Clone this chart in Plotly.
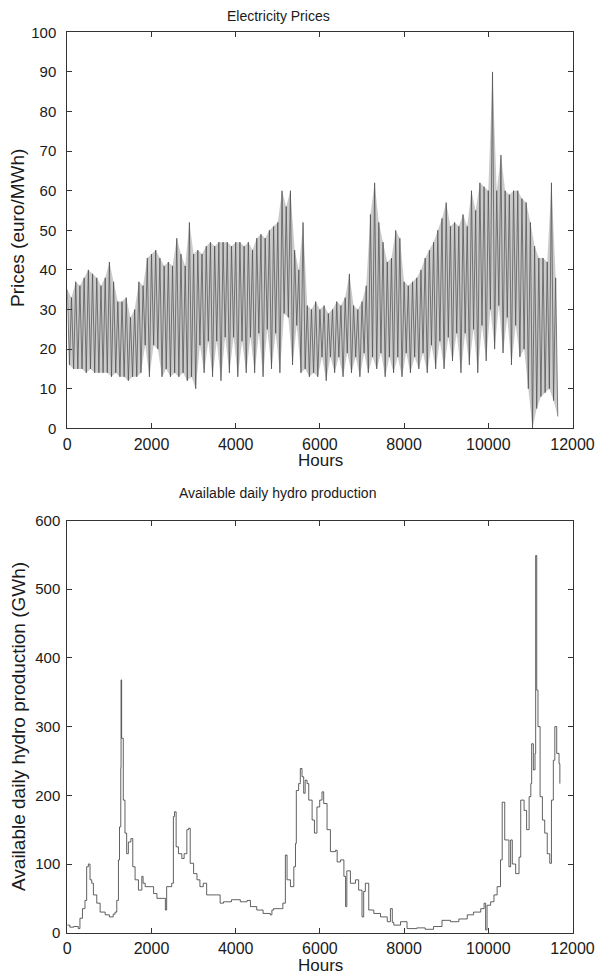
import plotly.graph_objects as go

# ---------------- data ----------------
# Electricity prices: daily swings sampled every 100 hours as high / low values
PRICE_HOURS = list(range(0, 11700, 100))
PRICE_HIGH = [
    35, 33, 37, 36, 38, 40, 39, 38, 36, 38,
    42, 37, 32, 32, 33, 28, 30, 37, 36, 43,
    44, 45, 43, 41, 42, 41, 48, 44, 41, 52,
    44, 45, 44, 46, 47, 46, 47, 47, 47, 46,
    47, 47, 46, 47, 45, 48, 49, 48, 50, 51,
    52, 60, 56, 60, 45, 40, 52, 31, 30, 32,
    30, 31, 29, 30, 32, 31, 33, 39, 31, 30,
    32, 36, 54, 62, 52, 47, 42, 43, 50, 48,
    37, 36, 37, 38, 40, 43, 45, 47, 50, 53,
    57, 51, 52, 51, 54, 51, 60, 55, 62, 61,
    60, 90, 60, 69, 60, 59, 60, 60, 58, 57,
    52, 46, 43, 43, 42, 62, 38,
]
PRICE_LOW = [
    16, 15, 15, 15, 14, 15, 14, 14, 14, 14,
    13, 14, 13, 13, 12, 13, 13, 14, 21, 13,
    21, 20, 13, 15, 13, 14, 13, 14, 12, 13,
    10, 21, 14, 22, 13, 22, 12, 23, 14, 23,
    13, 22, 14, 23, 14, 24, 13, 25, 15, 24,
    14, 29, 28, 16, 26, 14, 15, 13, 14, 13,
    18, 12, 18, 14, 18, 13, 19, 14, 18, 13,
    19, 14, 18, 15, 19, 13, 18, 14, 18, 13,
    19, 14, 18, 15, 19, 14, 21, 15, 22, 15,
    23, 17, 24, 14, 24, 16, 25, 14, 26, 17,
    30, 20, 31, 19, 28, 16, 26, 18, 20, 10,
    0, 5, 8, 9, 10, 7, 3,
]
LOW_OFFSET = 50  # low value of each sample sits half-way to the next sample

HYDRO_HOURS = [
    0, 60, 150, 260, 300, 360, 420, 460, 500, 540,
    580, 620, 700, 780, 900, 1000, 1090, 1135, 1175, 1215,
    1240, 1270, 1277, 1290, 1330, 1370, 1410, 1450, 1510, 1555,
    1610, 1690, 1770, 1800, 1850, 2010, 2050, 2130, 2290, 2330,
    2360, 2480, 2520, 2545, 2585, 2640, 2720, 2775, 2840, 2880,
    2920, 3000, 3080, 3150, 3230, 3310, 3550, 3630, 3710, 3900,
    4110, 4270, 4350, 4500, 4650, 4820, 4860, 4900, 5060, 5120,
    5180, 5220, 5300, 5380, 5420, 5440, 5495, 5535, 5575, 5615,
    5650, 5695, 5735, 5815, 5870, 5930, 5995, 6050, 6090, 6170,
    6250, 6370, 6410, 6490, 6570, 6610, 6640, 6725, 6845, 6920,
    7000, 7040, 7080, 7160, 7280, 7440, 7600, 7675, 7720, 7755,
    7915, 8070, 8300, 8500, 8700, 8900, 9100, 9300, 9500, 9650,
    9820, 9900, 9936, 9970, 10056, 10135, 10210, 10290, 10330, 10390,
    10450, 10490, 10530, 10570, 10650, 10730, 10770, 10850, 10910, 10970,
    11010, 11030, 11070, 11110, 11125, 11150, 11180, 11230, 11285, 11340,
    11400, 11460, 11500, 11545, 11580, 11625, 11680, 11700,
]
HYDRO_GWH = [
    11, 8, 9, 6, 21, 35, 47, 96, 100, 77,
    72, 55, 43, 30, 26, 23, 27, 30, 47, 106,
    154, 240, 368, 283, 193, 145, 115, 132, 137, 96,
    77, 62, 82, 72, 67, 67, 57, 50, 50, 33,
    67, 72, 169, 176, 125, 115, 108, 115, 150, 152,
    101, 86, 77, 67, 72, 55, 55, 43, 45, 48,
    45, 47, 38, 33, 28, 26, 33, 35, 35, 43,
    113, 77, 67, 96, 130, 207, 217, 239, 227, 203,
    222, 217, 193, 164, 145, 183, 193, 205, 188, 150,
    118, 120, 103, 106, 82, 38, 90, 72, 77, 62,
    23, 60, 72, 33, 28, 23, 16, 35, 15, 11,
    16, 6, 7, 5, 9, 18, 16, 20, 26, 30,
    35, 43, 4, 40, 45, 55, 67, 106, 190, 135,
    135, 96, 135, 100, 86, 110, 193, 178, 150, 198,
    217, 275, 237, 261, 549, 353, 300, 198, 164, 145,
    115, 101, 193, 251, 300, 261, 246, 217,
]

X_TICKS = [0, 2000, 4000, 6000, 8000, 10000, 12000]
X_TICK_TEXT = ["0", "2000", "4000", "6000", "8000", "10000", "12000"]
PRICE_TICKS = list(range(0, 101, 10))
HYDRO_TICKS = list(range(0, 601, 100))

# ---------------- build figure ----------------
px_x, px_y = [], []
for h, hi, lo in zip(PRICE_HOURS, PRICE_HIGH, PRICE_LOW):
    px_x += [h, h + LOW_OFFSET]
    px_y += [hi, lo]
low_x = [h + LOW_OFFSET for h in PRICE_HOURS]

W, H = 600, 975
FONT = "Liberation Sans, Arial, Helvetica, sans-serif"
INK = "#1a1a1a"

fig = go.Figure()
# gray band of the dense hourly swings (between high and low values)
fig.add_trace(go.Scatter(x=PRICE_HOURS, y=PRICE_HIGH, mode="lines",
                         line=dict(color="rgba(0,0,0,0)", width=0),
                         xaxis="x", yaxis="y", showlegend=False, hoverinfo="skip"))
fig.add_trace(go.Scatter(x=low_x, y=PRICE_LOW, mode="lines", fill="tonexty",
                         fillcolor="rgba(140,140,140,0.45)",
                         line=dict(color="rgba(0,0,0,0)", width=0),
                         xaxis="x", yaxis="y", showlegend=False, hoverinfo="skip"))
fig.add_trace(go.Scatter(x=px_x, y=px_y, mode="lines",
                         line=dict(color="#4a4a4a", width=0.7),
                         xaxis="x", yaxis="y", showlegend=False))
fig.add_trace(go.Scatter(x=HYDRO_HOURS, y=HYDRO_GWH, mode="lines",
                         line=dict(color="#3a3a3a", width=0.8, shape="hv"),
                         xaxis="x2", yaxis="y2", showlegend=False))

xdom = [67.3 / W, 572.5 / W]
top_dom = [(H - 428.3) / H, (H - 32.3) / H]
bot_dom = [(H - 932.7) / H, (H - 520.5) / H]

axis_common = dict(showline=True, linecolor="#333333", linewidth=1, mirror="ticks",
                   ticks="inside", ticklen=5, tickcolor="#333333", showgrid=False,
                   zeroline=False, automargin=False)
xfont = dict(family=FONT, size=16, color=INK)
yfont = dict(family=FONT, size=15, color=INK)

fig.update_layout(
    width=W, height=H, paper_bgcolor="white", plot_bgcolor="white",
    margin=dict(l=0, r=0, t=0, b=0),
    xaxis=dict(domain=xdom, range=[0, 12000], tickvals=X_TICKS, ticktext=X_TICK_TEXT,
               anchor="y", tickfont=xfont, ticklabelstandoff=1, **axis_common),
    yaxis=dict(domain=top_dom, range=[0, 100], tickvals=PRICE_TICKS, anchor="x",
               tickfont=yfont, ticklabelstandoff=7, **axis_common),
    xaxis2=dict(domain=xdom, range=[0, 12000], tickvals=X_TICKS, ticktext=X_TICK_TEXT,
                anchor="y2", tickfont=xfont, ticklabelstandoff=1, **axis_common),
    yaxis2=dict(domain=bot_dom, range=[0, 600], tickvals=HYDRO_TICKS, anchor="x2",
                tickfont=yfont, ticklabelstandoff=3, **axis_common),
)

def ann(text, x, y, size, angle=0):
    fig.add_annotation(text=text, xref="paper", yref="paper", x=x / W, y=1 - y / H,
                       showarrow=False, textangle=angle, xanchor="center", yanchor="middle",
                       font=dict(family=FONT, size=size, color=INK))

ann("Electricity Prices", 278, 16, 14)
ann("Hours", 320, 461, 17)
ann("Prices (euro/MWh)", 18, 228, 19, -90)
ann("Available daily hydro production", 277, 493, 14)
ann("Hours", 320, 965, 17)
ann("Available daily hydro production (GWh)", 18, 727, 19, -90)

fig.write_html("out.html", config={"displayModeBar": False},
               post_script="document.body.style.margin='0px';")
